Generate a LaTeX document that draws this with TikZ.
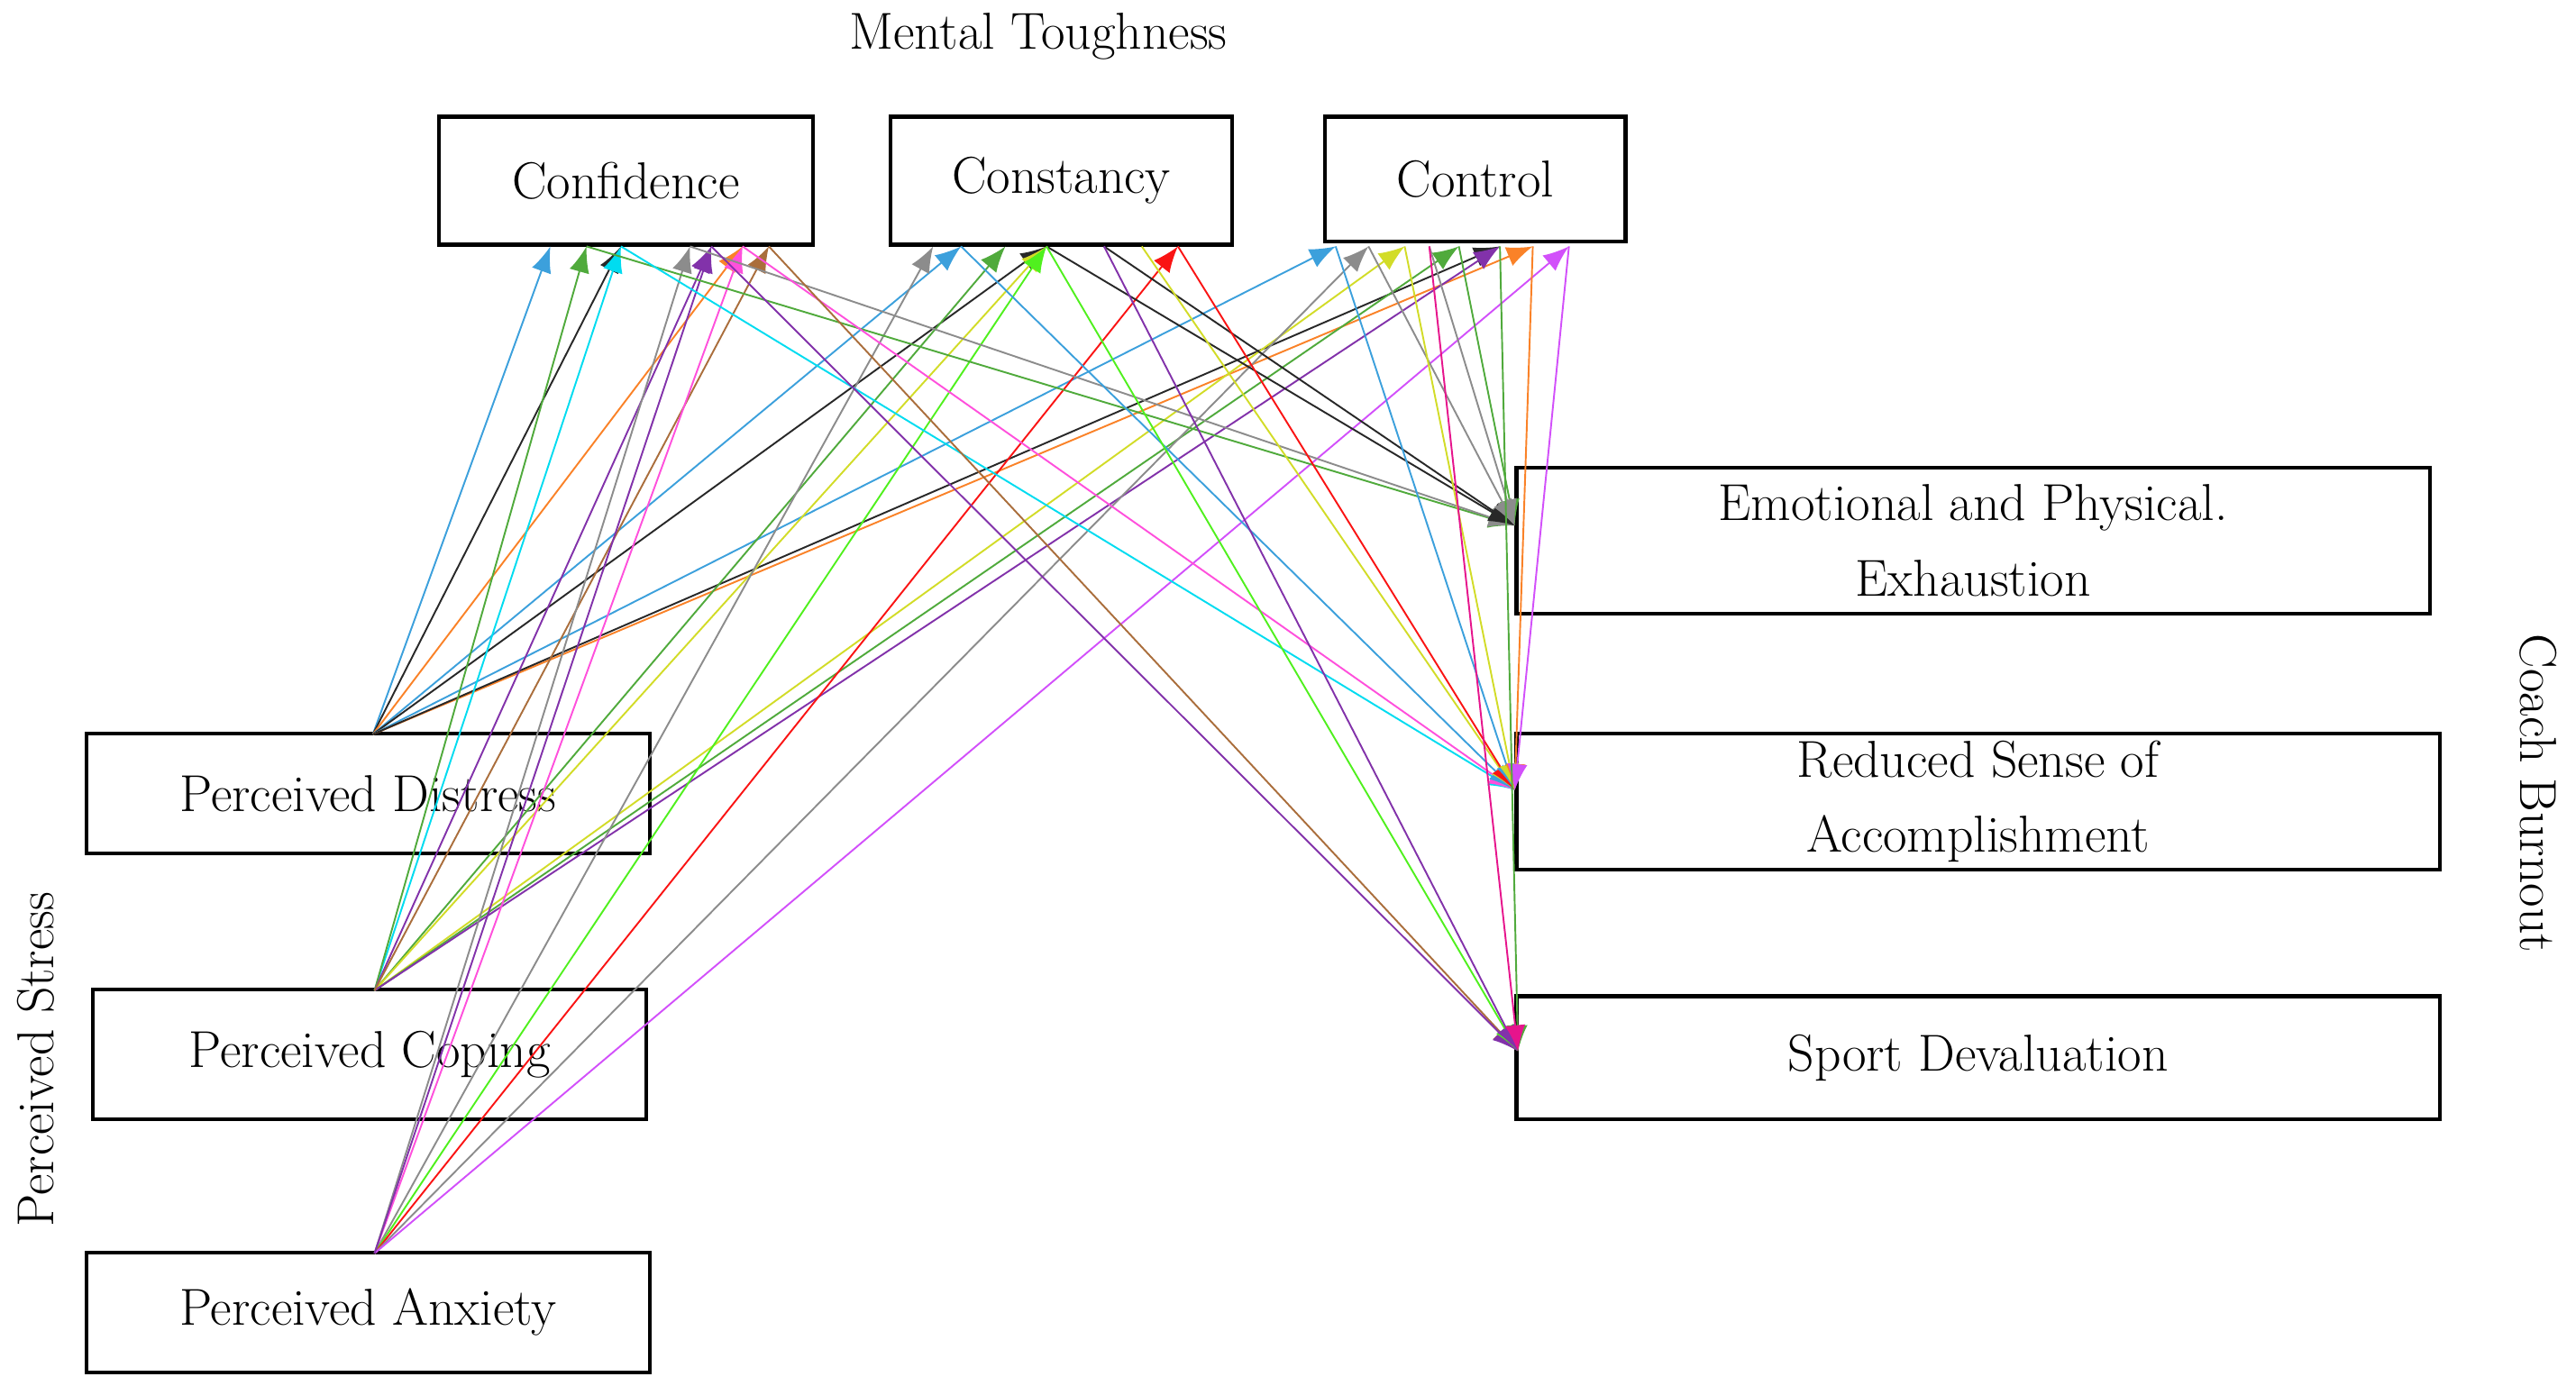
\documentclass[tikz,border=0pt]{standalone}
\usetikzlibrary{arrows.meta}
\begin{document}
\begin{tikzpicture}[x=0.02cm,y=-0.02cm,
  box/.style={draw,line width=1.3pt,inner sep=0pt,font=\fontsize{18}{24}\selectfont,align=center},
  lbl/.style={font=\fontsize{18}{22}\selectfont},
  ar/.style={-{Latex[length=9pt,width=7pt]},line width=0.6pt}]
\useasboundingbox (0,0) rectangle (1568,849);
\definecolor{cblue}{RGB}{60,160,220}\definecolor{cgreen}{RGB}{80,170,60}
\definecolor{ccyan}{RGB}{0,220,240}\definecolor{cgray}{RGB}{140,140,140}
\definecolor{cpurple}{RGB}{130,50,170}\definecolor{cpink}{RGB}{255,80,220}
\definecolor{cbrown}{RGB}{170,110,60}\definecolor{clime}{RGB}{80,240,30}
\definecolor{corange}{RGB}{250,130,40}\definecolor{cred}{RGB}{250,20,20}
\definecolor{cyel}{RGB}{210,220,40}\definecolor{cmag}{RGB}{230,20,140}
\definecolor{cviol}{RGB}{210,80,250}\definecolor{cblack}{RGB}{40,40,40}
% boxes
\node[box,minimum width=4.56cm,minimum height=1.56cm] (conf) at (381,110) {Confidence};
\node[box,minimum width=4.16cm,minimum height=1.56cm] (cons) at (646,110) {Constancy};
\node[box,minimum width=3.66cm,minimum height=1.52cm] (ctrl) at (898,109) {Control};
\node[box,minimum width=6.86cm,minimum height=1.46cm] (dist) at (224,483) {Perceived Distress};
\node[box,minimum width=6.74cm,minimum height=1.58cm] (cop) at (225,642) {Perceived Coping};
\node[box,minimum width=6.86cm,minimum height=1.46cm] (anx) at (224,799) {Perceived Anxiety};
\node[box,minimum width=11.12cm,minimum height=1.78cm] (emo) at (1201,329) {Emotional and Physical.\\[2pt] Exhaustion};
\node[box,minimum width=11.24cm,minimum height=1.66cm] (red) at (1204,488) {Reduced Sense of\\[2pt] Accomplishment};
\node[box,minimum width=11.24cm,minimum height=1.5cm] (sport) at (1204,644) {Sport Devaluation};
\node[lbl] (mt) at (632,22) {Mental Toughness};
\node[lbl,rotate=90] (ps) at (22,645) {Perceived Stress};
\node[lbl,rotate=-90] (cb) at (1545,483) {Coach Burnout};
% anchor coordinates
\coordinate (sD) at (227,447); \coordinate (sC) at (228,603); \coordinate (sA) at (228,763);
\coordinate (rE) at (922,320); \coordinate (rR) at (922,481); \coordinate (rS) at (924,640);
\foreach \n/\x in {a/335,b/357,c/378,d/420,e/433,f/452,g/468,h/568,i/585,j/612,k/637,l/672,m/695,n/717,o/813,p/833,q/855,r/870,s/888,t/913,u/933,v/955}
  \coordinate (t\n) at (\x,150);
% sources to top
\foreach \s/\t/\c in {sD/a/cblue,sD/c/cblack,sD/f/corange,sD/i/cblue,sD/k/cblack,sD/o/cblue,sD/u/corange,sD/t/cblack,
  sC/c/ccyan,sC/b/cgreen,sC/e/cpurple,sC/j/cgreen,sC/k/cyel,sC/q/cyel,sC/s/cgreen,sC/t/cpurple,sC/g/cbrown,
  sA/d/cgray,sA/f/cpink,sA/h/cgray,sA/k/clime,sA/n/cred,sA/p/cgray,sA/v/cviol,sA/e/cpurple}
  \draw[ar,\c] (\s) -- (t\t);
% top to outcomes
\foreach \t/\r/\c in {b/rE/cgreen,d/rE/cgray,k/rE/cblack,l/rE/cblack,s/rE/cgreen,p/rE/cgray,r/rE/cgray,
  c/rR/ccyan,f/rR/cpink,i/rR/cblue,m/rR/cyel,n/rR/cred,o/rR/cblue,q/rR/cyel,u/rR/corange,v/rR/cviol,
  g/rS/cbrown,e/rS/cpurple,k/rS/clime,l/rS/cpurple,t/rS/cgreen,r/rS/cmag}
  \draw[ar,\c] (t\t) -- (\r);
\end{tikzpicture}
\end{document}
